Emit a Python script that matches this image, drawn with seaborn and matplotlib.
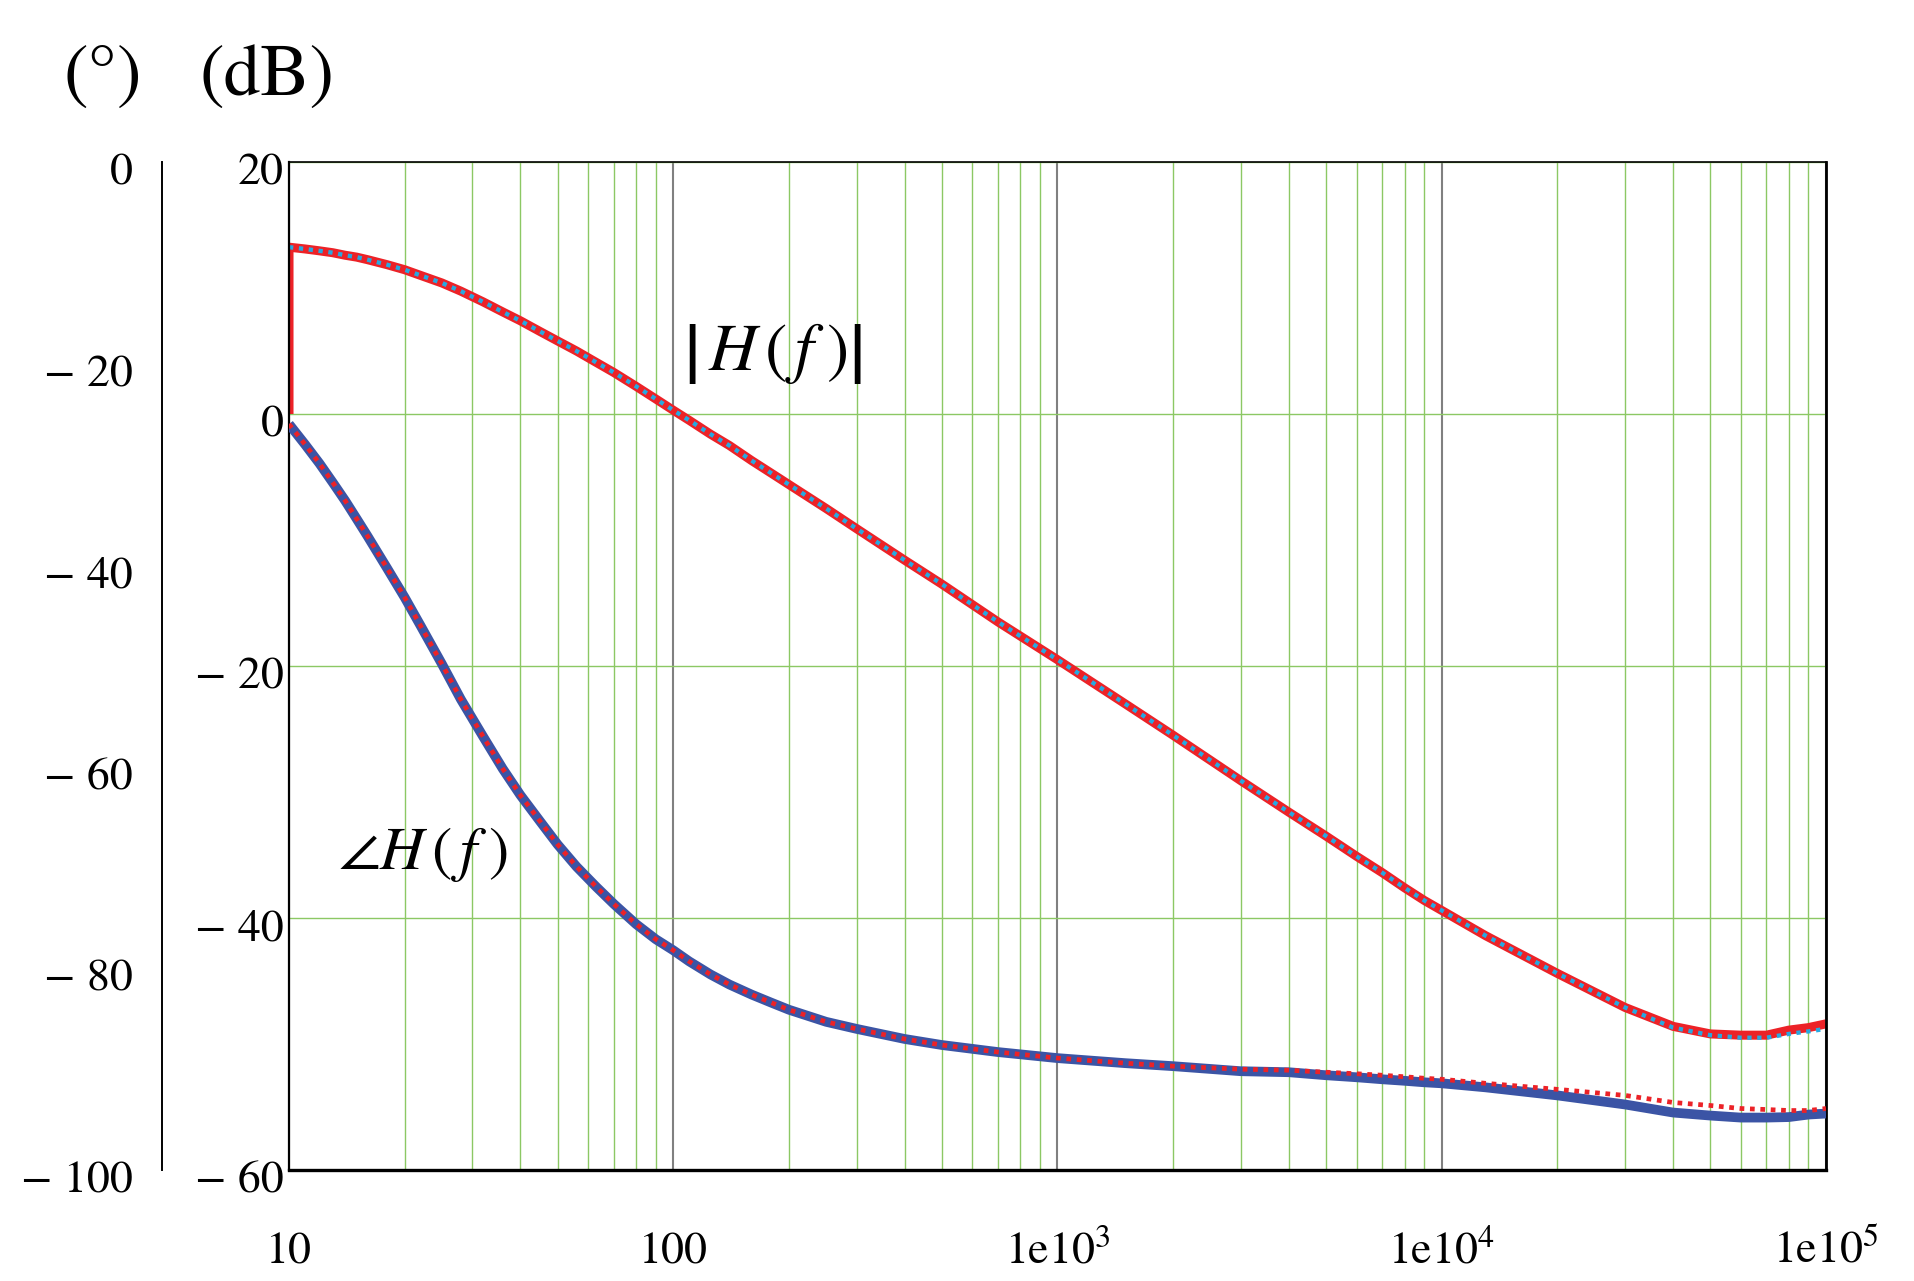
import matplotlib
matplotlib.use("Agg")
import matplotlib.pyplot as plt
import matplotlib.transforms as mtransforms
from matplotlib.ticker import LogLocator, NullFormatter, FixedLocator
import seaborn as sns
import pandas as pd

# ---------------- data ----------------
freq = [10, 11, 12, 13, 14, 15, 16, 18, 20, 22, 25, 28, 32, 36, 40, 45, 50,
        56, 63, 70, 80, 90, 100, 110, 125, 140, 160, 180, 200, 250, 300, 400,
        500, 700, 1000, 1500, 2000, 3000, 4000, 5000, 6000, 7000, 8000, 9000,
        10000, 13000, 20000, 30000, 40000, 50000, 60000, 70000, 80000, 90000,
        100000]

# magnitude (dB) - theoretical (dotted cyan)
mag_theory = [13.24, 13.1, 12.95, 12.8, 12.6, 12.45, 12.25, 11.85, 11.45, 11.0,
              10.4, 9.75, 8.9, 8.1, 7.4, 6.55, 5.8, 5.0, 4.1, 3.3, 2.2, 1.2,
              0.3, -0.5, -1.6, -2.5, -3.7, -4.7, -5.6, -7.5, -9.1, -11.6,
              -13.5, -16.5, -19.5, -23.0, -25.5, -29.1, -31.6, -33.5, -35.1,
              -36.4, -37.6, -38.6, -39.4, -41.4, -44.4, -47.1, -48.7, -49.3,
              -49.5, -49.5, -49.2, -49.0, -48.8]
# magnitude (dB) - simulated (thick red); its first sample sits at 0 dB
mag_sim_freq = [10] + freq
mag_sim = [0.0, 13.24, 13.1, 12.95, 12.8, 12.6, 12.45, 12.25, 11.85, 11.45,
           11.0, 10.4, 9.75, 8.9, 8.1, 7.4, 6.55, 5.8, 5.0, 4.1, 3.3, 2.2, 1.2,
           0.3, -0.5, -1.6, -2.5, -3.7, -4.7, -5.6, -7.5, -9.1, -11.6,
           -13.5, -16.5, -19.5, -23.0, -25.5, -29.1, -31.6, -33.5, -35.1,
           -36.4, -37.6, -38.6, -39.4, -41.4, -44.4, -47.1, -48.6, -49.2,
           -49.3, -49.3, -48.9, -48.7, -48.4]

# phase (deg) - theoretical (dotted red)
phase_theory = [-26.0, -28.0, -29.9, -31.8, -33.6, -35.4, -37.1, -40.3, -43.2,
                -46.0, -49.8, -53.3, -57.0, -60.2, -62.8, -65.4, -67.7, -69.9,
                -71.9, -73.6, -75.6, -77.1, -78.2, -79.3, -80.6, -81.6, -82.6,
                -83.4, -84.1, -85.3, -86.0, -87.0, -87.6, -88.3, -88.9, -89.4,
                -89.7, -90.0, -90.1, -90.3, -90.45, -90.6, -90.75, -90.9,
                -91.0, -91.4, -92.0, -92.6, -93.3, -93.6, -93.9, -94.0, -94.1,
                -94.1, -93.9]
# phase (deg) - simulated (thick blue)
phase_sim = [-26.0, -28.0, -29.9, -31.8, -33.6, -35.4, -37.1, -40.3, -43.2,
             -46.0, -49.8, -53.3, -57.0, -60.2, -62.8, -65.4, -67.7, -69.9,
             -71.9, -73.6, -75.6, -77.1, -78.2, -79.3, -80.6, -81.6, -82.6,
             -83.4, -84.1, -85.3, -86.0, -87.0, -87.6, -88.3, -88.9, -89.4,
             -89.7, -90.2, -90.3, -90.6, -90.8, -91.0, -91.15, -91.3, -91.4,
             -91.8, -92.6, -93.5, -94.3, -94.6, -94.8, -94.8, -94.75, -94.5,
             -94.4]

x_ticks = [10, 100, 1e3, 1e4, 1e5]
x_labels = ["10", "100", r"1e10$^{3}$", r"1e10$^{4}$", r"1e10$^{5}$"]
db_ticks = [20, 0, -20, -40, -60]
db_labels = ["20", "0", "\u2212 20", "\u2212 40", "\u2212 60"]
ph_ticks = [0, -20, -40, -60, -80, -100]
ph_labels = ["0", "\u2212 20", "\u2212 40", "\u2212 60", "\u2212 80", "\u2212 100"]

# ---------------- style ----------------
sns.set_theme(style="white")
plt.rcParams["font.family"] = ["STIXGeneral", "DejaVu Serif"]
plt.rcParams["mathtext.fontset"] = "stix"
plt.rcParams["text.color"] = "black"

GREEN = "#8cc864"
GRAY = "#808080"
RED = "#ec2227"
CYAN = "#27a9e1"
BLUE = "#3b54a5"

DPI = 100
fig = plt.figure(figsize=(19.15, 12.81), dpi=DPI)
ax = fig.add_axes([289 / 1915, 1 - 1170 / 1281, (1826 - 289) / 1915, (1170 - 162) / 1281])
ax.set_facecolor("white")

ax.set_xscale("log")
ax.set_xlim(10, 1e5)
ax.set_ylim(-60, 20)

# grid
ax.xaxis.set_major_locator(FixedLocator(x_ticks))
ax.xaxis.set_minor_locator(LogLocator(base=10, subs=[2, 3, 4, 5, 6, 7, 8, 9], numticks=20))
ax.xaxis.set_minor_formatter(NullFormatter())
ax.grid(which="minor", axis="x", color=GREEN, linewidth=1.0)
ax.grid(which="major", axis="x", color=GRAY, linewidth=1.5)
ax.grid(which="major", axis="y", color=GREEN, linewidth=1.0)
ax.set_axisbelow(True)

ax.set_xticks(x_ticks)
ax.set_xticklabels(x_labels)
ax.set_yticks(db_ticks)
ax.set_yticklabels(db_labels)
ax.tick_params(axis="x", which="both", length=0, pad=67, labelsize=33, labelcolor="black")
ax.tick_params(axis="y", which="both", length=0, pad=4, labelsize=33, labelcolor="black")
for lab in ax.get_xticklabels():
    lab.set_verticalalignment("baseline")
down = mtransforms.ScaledTranslation(0, -7 / DPI, fig.dpi_scale_trans)
for lab in ax.get_yticklabels():
    lab.set_transform(lab.get_transform() + down)

for side, lw in [("top", 1.2), ("bottom", 2.4), ("left", 1.6), ("right", 2.0)]:
    ax.spines[side].set_visible(True)
    ax.spines[side].set_color("black")
    ax.spines[side].set_linewidth(lw)
    ax.spines[side].set_zorder(5)

# magnitude curves
df_mag_sim = pd.DataFrame({"f": mag_sim_freq, "v": mag_sim})
df_mag_th = pd.DataFrame({"f": freq, "v": mag_theory})
sns.lineplot(data=df_mag_sim, x="f", y="v", ax=ax, color=RED, linewidth=6.5,
             sort=False, estimator=None, solid_capstyle="butt",
             solid_joinstyle="round", zorder=3)
sns.lineplot(data=df_mag_th, x="f", y="v", ax=ax, color=CYAN, linewidth=3.1,
             sort=False, estimator=None, linestyle=(0, (1.0, 1.3)),
             dash_capstyle="butt", zorder=4)
ax.set_xlabel("")
ax.set_ylabel("")

# phase axis
ax2 = ax.twinx()
ax2.set_ylim(-100, 0)
ax2.yaxis.set_ticks_position("left")
ax2.spines["left"].set_position(("outward", 127 * 72 / DPI))
ax2.spines["left"].set_visible(True)
ax2.spines["left"].set_color("black")
ax2.spines["left"].set_linewidth(1.4)
for side in ["right", "top", "bottom"]:
    ax2.spines[side].set_visible(False)
ax2.set_yticks(ph_ticks)
ax2.set_yticklabels(ph_labels)
ax2.tick_params(axis="y", which="both", length=0, pad=21, labelsize=33,
                labelcolor="black", left=True, right=False, labelleft=True, labelright=False)
for lab in ax2.get_yticklabels():
    lab.set_transform(lab.get_transform() + down)

df_ph_sim = pd.DataFrame({"f": freq, "v": phase_sim})
df_ph_th = pd.DataFrame({"f": freq, "v": phase_theory})
sns.lineplot(data=df_ph_sim, x="f", y="v", ax=ax2, color=BLUE, linewidth=7.0,
             sort=False, estimator=None, solid_capstyle="butt",
             solid_joinstyle="round", zorder=3)
sns.lineplot(data=df_ph_th, x="f", y="v", ax=ax2, color=RED, linewidth=3.4,
             sort=False, estimator=None, linestyle=(0, (1.0, 1.2)),
             dash_capstyle="butt", zorder=4)
ax2.set_xlabel("")
ax2.set_ylabel("")
ax2.set_xlim(10, 1e5)

# curve labels
ax.text(181, 4.8, r"$\left|\,H\,\left(\,f\;\right)\right|$", fontsize=48,
        ha="center", va="center", color="black", zorder=6)
ax.text(22.3, -35.0, r"$\angle H\,\left(\,f\;\right)$", fontsize=44,
        ha="center", va="center", color="black", zorder=6)

# unit labels
fig.text(102.5 / 1915, 1 - 78 / 1281, "(°)", fontsize=53, ha="center", va="center",
         color="black")
fig.text(267 / 1915, 1 - 78 / 1281, "(dB)", fontsize=53, ha="center", va="center",
         color="black")

fig.savefig("out.png", dpi=DPI)
